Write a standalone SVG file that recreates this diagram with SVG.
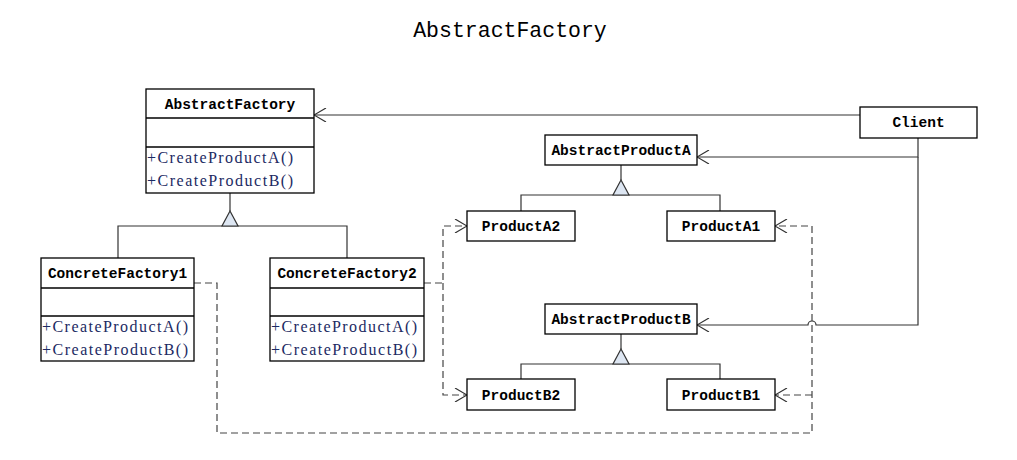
<svg xmlns="http://www.w3.org/2000/svg" width="1017" height="460" viewBox="0 0 1017 460">
<style>
.box{fill:#fff;stroke:#000;stroke-width:1.3}
.name{font-family:"Liberation Mono","DejaVu Sans Mono",monospace;font-weight:bold;font-size:14.5px;fill:#000;text-anchor:middle}
.meth{font-family:"Liberation Serif","DejaVu Serif",serif;font-size:16px;fill:#1c2a63}
.title{font-family:"Liberation Mono","DejaVu Sans Mono",monospace;font-size:21.5px;fill:#000;text-anchor:middle}
.ln{fill:none;stroke:#333;stroke-width:1.2}
.dash{fill:none;stroke:#444;stroke-width:1.2;stroke-dasharray:7,4}
.tri{fill:#dde6f2;stroke:#333;stroke-width:1.2}
</style>
<defs>
<marker id="open" viewBox="0 0 14 14" refX="13" refY="7" markerWidth="14" markerHeight="14" markerUnits="userSpaceOnUse" orient="auto">
<path d="M1,0 L13,7 L1,14" fill="none" stroke="#333" stroke-width="1.2"/>
</marker>
</defs>
<text class="title" x="510" y="37">AbstractFactory</text>
<g id="connectors">
<path class="ln" d="M860,115 H314" marker-end="url(#open)"/>
<path class="ln" d="M918,138 V157 H697" marker-end="url(#open)"/>
<path class="ln" d="M918,157 V325 H816 a4,4 0 0 0 -8,0 H697" marker-end="url(#open)"/>
<path class="ln" d="M230,193 V211"/>
<path class="ln" d="M118,258 V226 H347 V258"/>
<polygon class="tri" points="230,211 222,226 238,226"/>
<path class="ln" d="M621,165 V180"/>
<path class="ln" d="M521,211 V195 H720 V211"/>
<polygon class="tri" points="621,180 613,195 629,195"/>
<path class="ln" d="M621,334 V349"/>
<path class="ln" d="M521,379 V364 H720 V379"/>
<polygon class="tri" points="621,349 613,364 629,364"/>
<path class="dash" d="M194,283 H217 V433 H812 V226 H775" marker-end="url(#open)"/>
<path class="dash" d="M812,395 H775" marker-end="url(#open)"/>
<path class="dash" d="M424,283 H443 V226 H467" marker-end="url(#open)"/>
<path class="dash" d="M443,283 V395 H467" marker-end="url(#open)"/>
</g>
<g id="AbstractFactory">
<rect class="box" x="146" y="89" width="168" height="104"/>
<line class="box" x1="146" y1="118" x2="314" y2="118"/>
<line class="box" x1="146" y1="147" x2="314" y2="147"/>
<text class="name" x="230" y="109">AbstractFactory</text>
<text class="meth" x="147" y="163" textLength="146" lengthAdjust="spacing">+CreateProductA()</text>
<text class="meth" x="147" y="186" textLength="146" lengthAdjust="spacing">+CreateProductB()</text>
</g>
<g id="ConcreteFactory1">
<rect class="box" x="41" y="258" width="153" height="103"/>
<line class="box" x1="41" y1="288" x2="194" y2="288"/>
<line class="box" x1="41" y1="316" x2="194" y2="316"/>
<text class="name" x="117.5" y="278">ConcreteFactory1</text>
<text class="meth" x="42" y="332" textLength="146" lengthAdjust="spacing">+CreateProductA()</text>
<text class="meth" x="42" y="355" textLength="146" lengthAdjust="spacing">+CreateProductB()</text>
</g>
<g id="ConcreteFactory2">
<rect class="box" x="270" y="258" width="154" height="103"/>
<line class="box" x1="270" y1="288" x2="424" y2="288"/>
<line class="box" x1="270" y1="316" x2="424" y2="316"/>
<text class="name" x="347" y="278">ConcreteFactory2</text>
<text class="meth" x="271" y="332" textLength="146" lengthAdjust="spacing">+CreateProductA()</text>
<text class="meth" x="271" y="355" textLength="146" lengthAdjust="spacing">+CreateProductB()</text>
</g>
<g id="Client">
<rect class="box" x="860" y="107" width="117" height="31"/>
<text class="name" x="918.5" y="127">Client</text>
</g>
<g id="AbstractProductA">
<rect class="box" x="545" y="135" width="152" height="30"/>
<text class="name" x="621" y="155">AbstractProductA</text>
</g>
<g id="ProductA2">
<rect class="box" x="467" y="211" width="108" height="30"/>
<text class="name" x="521" y="231">ProductA2</text>
</g>
<g id="ProductA1">
<rect class="box" x="667" y="211" width="108" height="30"/>
<text class="name" x="721" y="231">ProductA1</text>
</g>
<g id="AbstractProductB">
<rect class="box" x="545" y="304" width="152" height="30"/>
<text class="name" x="621" y="324">AbstractProductB</text>
</g>
<g id="ProductB2">
<rect class="box" x="467" y="379" width="108" height="31"/>
<text class="name" x="521" y="400">ProductB2</text>
</g>
<g id="ProductB1">
<rect class="box" x="667" y="379" width="108" height="31"/>
<text class="name" x="721" y="400">ProductB1</text>
</g>
</svg>
